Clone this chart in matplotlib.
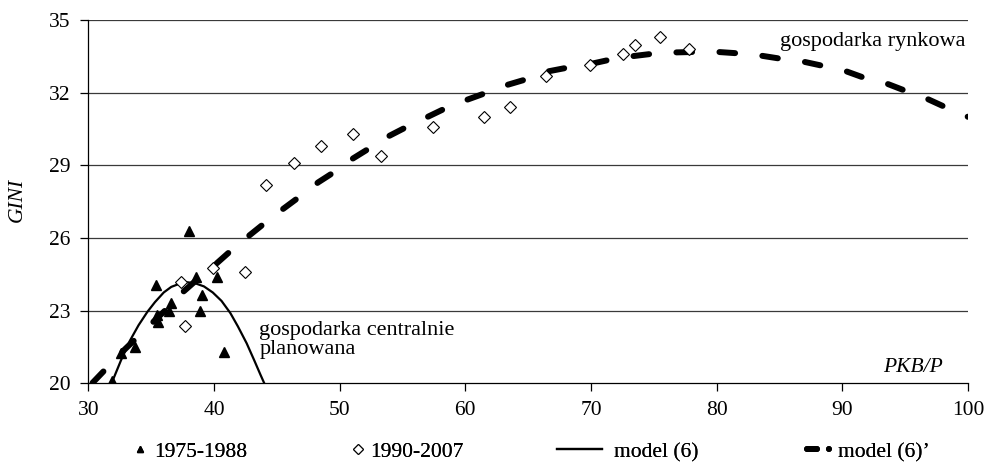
# GINI vs PKB/P: scatter of two periods plus the two fitted model curves

import numpy as np
import matplotlib
matplotlib.use("Agg")
import matplotlib.pyplot as plt
from matplotlib.lines import Line2D

plt.rcParams["font.family"] = ["Liberation Serif", "DejaVu Serif"]
plt.rcParams["lines.scale_dashes"] = False

# 1975-1988 (triangles)
pkb_7588 = [31.9, 32.6, 33.75, 35.35, 35.55, 35.5, 36.55, 36.45, 38.05, 38.55, 39.05, 38.85, 40.25, 40.8]
gini_7588 = [20.08, 21.27, 21.5, 24.07, 22.55, 22.8, 23.3, 22.97, 26.28, 24.38, 23.65, 22.97, 24.38, 21.3]

# 1990-2007 (diamonds)
pkb_9007 = [37.35, 37.7, 39.95, 42.45, 44.1, 46.35, 48.55, 51.05, 53.3, 57.4,
            61.5, 63.55, 66.45, 69.9, 72.55, 73.5, 75.5, 77.8]
gini_9007 = [24.2, 22.35, 24.75, 24.6, 28.2, 29.1, 29.78, 30.29, 29.39, 30.58,
             30.98, 31.39, 32.7, 33.13, 33.6, 33.98, 34.3, 33.8]

# model (6) - centrally planned economy
m6_x = [31.85, 32.6, 33.3, 34.0, 34.7, 35.3, 36.0, 36.6, 37.3, 37.9,
        38.5, 39.2, 39.9, 40.6, 41.3, 41.9, 42.6, 43.2, 43.7, 44.0]
m6_y = [20.0, 20.95, 21.75, 22.4, 22.95, 23.35, 23.75, 23.98, 24.12, 24.17,
        24.13, 24.0, 23.75, 23.4, 22.9, 22.35, 21.65, 20.95, 20.35, 20.0]

# model (6)' - market economy
m6p_x = [30.3, 31.5, 32.8, 33.9, 35.4, 36.5, 37.6, 38.8, 40.1, 41.4, 42.8, 44.0,
         45.5, 46.8, 48.3, 49.5, 50.8, 52.2, 53.7, 55.2, 56.8, 58.2, 60.1, 61.7,
         63.4, 64.9, 66.6, 68.2, 70.1, 71.5, 73.2, 74.8, 76.6, 78.2, 80.1, 81.8,
         83.5, 85.1, 86.9, 88.5, 90.1, 91.7, 93.4, 95.0, 96.6, 98.2, 100.0]
m6p_y = [20.0, 20.65, 21.35, 21.9, 22.65, 23.2, 23.8, 24.35, 24.9, 25.5, 26.1, 26.6,
         27.2, 27.7, 28.3, 28.7, 29.2, 29.65, 30.15, 30.55, 30.95, 31.3, 31.7, 32.0,
         32.33, 32.56, 32.88, 33.04, 33.2, 33.36, 33.5, 33.6, 33.66, 33.68, 33.68, 33.62,
         33.53, 33.4, 33.28, 33.1, 32.92, 32.62, 32.4, 32.08, 31.78, 31.4, 31.0]

xticks = [30, 40, 50, 60, 70, 80, 90, 100]
yticks = [20, 23, 26, 29, 32, 35]

fs = 15.5
fs_note = 16

fig = plt.figure(figsize=(9.88, 4.66), dpi=100)
ax = fig.add_axes([0.0894, 0.1775, 0.8904, 0.7796])
ax.set_xlim(30, 100)
ax.set_ylim(20, 35)

for y in yticks[1:]:
    ax.axhline(y, color="#3a3a3a", lw=0.9, zorder=1)

ax.plot(m6_x, m6_y, color="black", lw=1.6, zorder=3)

# dash phase chosen so the curve ends on a dot at x=100, like the original
on, off = 11.3, 19.7
pts = ax.transData.transform(np.column_stack([m6p_x, m6p_y]))
length_pt = np.hypot(np.diff(pts[:, 0]), np.diff(pts[:, 1])).sum() * 72 / fig.dpi
phase = (0.3 - length_pt) % (on + off)
ax.plot(m6p_x, m6p_y, color="black", lw=4.3, ls=(phase, (on, off)),
        dash_capstyle="round", zorder=3)

ax.plot(pkb_7588, gini_7588, ls="none", marker="^", ms=7.3, color="black", zorder=4)
ax.plot(pkb_9007, gini_9007, ls="none", marker="D", ms=6, mfc="white",
        mec="black", mew=0.8, zorder=4)

ax.set_xticks(xticks)
ax.set_yticks(yticks)
ax.tick_params(axis="both", direction="out", length=5.8, width=0.9, labelsize=fs)
ax.tick_params(axis="x", pad=7)
ax.tick_params(axis="y", pad=7)
ax.spines["top"].set_visible(False)
ax.spines["right"].set_visible(False)
ax.spines["left"].set_linewidth(0.9)
ax.spines["bottom"].set_linewidth(0.9)

ax.text(99.8, 34.13, "gospodarka rynkowa", ha="right", va="center", fontsize=fs_note)
ax.text(43.6, 21.79, "gospodarka centralnie\nplanowana", ha="left", va="center",
        fontsize=fs_note, linespacing=0.95)
ax.text(98.0, 20.67, "PKB/P", ha="right", va="center", fontsize=fs, style="italic")
fig.text(17 / 988, 1 - 200 / 466, "GINI", rotation=90, ha="center", va="center",
         fontsize=fs, style="italic")

# legend, one entry at a time so the spacing follows the original
h1 = Line2D([], [], ls="none", marker="^", ms=5, color="black")
h2 = Line2D([], [], ls="none", marker="D", ms=4.6, mfc="white", mec="black", mew=0.8)
h3 = Line2D([], [], color="black", lw=1.6)
h4 = Line2D([], [], color="black", lw=4.3, dashes=(7.2, 8.6), dash_capstyle="round")

entries = [
    (h1, "1975-1988", 133.5, 0.6, 0.35),
    (h2, "1990-2007", 351.5, 0.6, 0.26),
    (h3, "model (6)", 557, 2.09, 0.56),
    (h4, "model (6)\u2019", 807, 1.045, 0.4),
]
leg_y = 1 - 452 / 466
for h, lab, x0, hl, tp in entries:
    leg = fig.legend(handles=[h], labels=[lab], loc="center left",
                     bbox_to_anchor=(x0 / 988, leg_y), frameon=False,
                     fontsize=fs, handlelength=hl, handletextpad=tp,
                     borderpad=0, borderaxespad=0)
    fig.add_artist(leg)

fig.savefig("out.png", dpi=100)
